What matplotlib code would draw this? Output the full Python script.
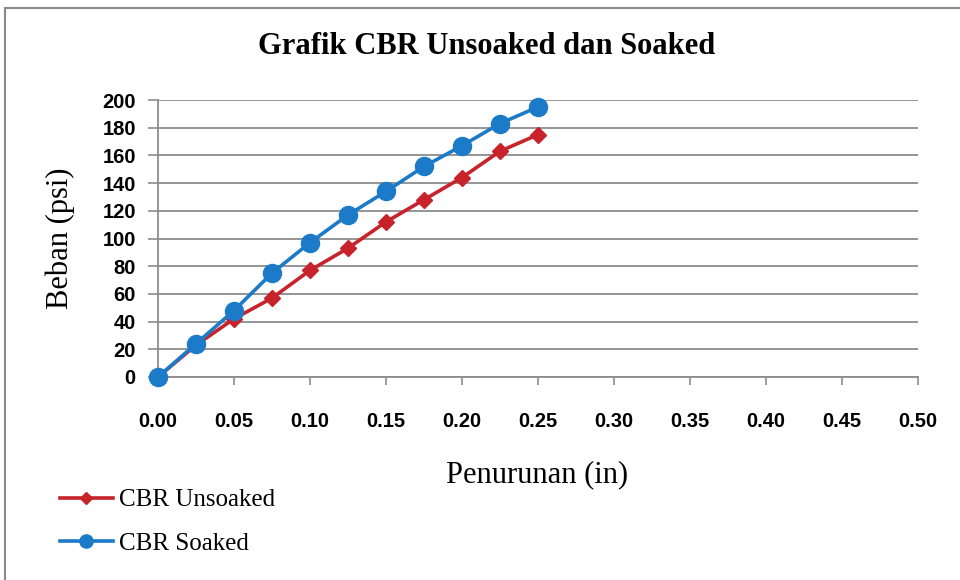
import matplotlib

matplotlib.use("Agg")
import matplotlib.pyplot as plt
from matplotlib.lines import Line2D

WIDTH = 960
HEIGHT = 580
DPI = 100

penurunan = [0.0, 0.025, 0.05, 0.075, 0.1, 0.125, 0.15, 0.175, 0.2, 0.225, 0.25]
unsoaked = [0, 23, 42, 57, 77, 93, 112, 128, 144, 163, 175]
soaked = [0, 24, 48, 75, 97, 117, 134, 152, 167, 183, 195]
x_ticks = [0.00, 0.05, 0.10, 0.15, 0.20, 0.25, 0.30, 0.35, 0.40, 0.45, 0.50]
y_ticks = [0, 20, 40, 60, 80, 100, 120, 140, 160, 180, 200]
series_names = ["CBR Unsoaked", "CBR Soaked"]

RED = "#C8232B"
BLUE = "#1C7BC9"
GRID = "#8C8C8C"
SERIF = ["Liberation Serif", "DejaVu Serif"]
SANS = ["Liberation Sans", "DejaVu Sans"]


def px(x, y):
    # pixel coords (top-left origin) -> figure fraction
    return x / WIDTH, 1 - y / HEIGHT


fig = plt.figure(figsize=(WIDTH / DPI, HEIGHT / DPI), dpi=DPI, facecolor="white")

# outer chart frame (only top and left edges fall inside the picture)
fig.add_artist(Line2D([5 / WIDTH, 1.0], [px(0, 8)[1]] * 2, transform=fig.transFigure,
                      color="#8a8a8a", linewidth=1.5))
fig.add_artist(Line2D([5 / WIDTH] * 2, [0.0, px(0, 8)[1]], transform=fig.transFigure,
                      color="#8a8a8a", linewidth=1.5))

left, top = px(158, 100)
right, bottom = px(918, 377)
ax = fig.add_axes([left, bottom, right - left, top - bottom])

ax.plot(penurunan, unsoaked, color=RED, linewidth=2.6, marker="D",
        markersize=8.5, clip_on=False, zorder=3)
ax.plot(penurunan, soaked, color=BLUE, linewidth=2.6, marker="o",
        markersize=13, clip_on=False, zorder=4)

ax.set_xlim(0, 0.5)
ax.set_ylim(0, 200)
ax.set_xticks(x_ticks)
ax.set_yticks(y_ticks)
ax.set_xticklabels([f"{v:.2f}" for v in x_ticks], fontfamily=SANS,
                   fontweight="bold", fontsize=14.5)
ax.set_yticklabels([str(v) for v in y_ticks], fontfamily=SANS,
                   fontweight="bold", fontsize=14.5)
ax.tick_params(axis="x", direction="out", length=6, width=1.2, color=GRID, pad=19)
ax.tick_params(axis="y", direction="out", length=7, width=1.2, color=GRID, pad=9)
ax.yaxis.grid(True, color=GRID, linewidth=1.3)
ax.set_axisbelow(True)
for side in ("top", "right"):
    ax.spines[side].set_visible(False)
for side in ("left", "bottom"):
    ax.spines[side].set_color(GRID)
    ax.spines[side].set_linewidth(1.3)

fig.text(*px(487, 47), "Grafik CBR Unsoaked dan Soaked", ha="center", va="center",
         fontfamily=SERIF, fontweight="bold", fontsize=22)
fig.text(*px(60, 238), "Beban (psi)", ha="center", va="center", rotation=90,
         fontfamily=SERIF, fontsize=22)
fig.text(*px(537, 475), "Penurunan (in)", ha="center", va="center",
         fontfamily=SERIF, fontsize=22)

handles = [
    Line2D([], [], color=RED, linewidth=2.6, marker="D", markersize=6.5),
    Line2D([], [], color=BLUE, linewidth=2.6, marker="o", markersize=9.5),
]
fig.legend(handles, series_names, loc="center left", bbox_to_anchor=px(60, 522),
           frameon=False, prop={"family": SERIF, "size": 18}, handlelength=2.1,
           handletextpad=0.25, labelspacing=0.85, borderaxespad=0, borderpad=0)

fig.savefig("out.png", dpi=DPI, facecolor="white")
